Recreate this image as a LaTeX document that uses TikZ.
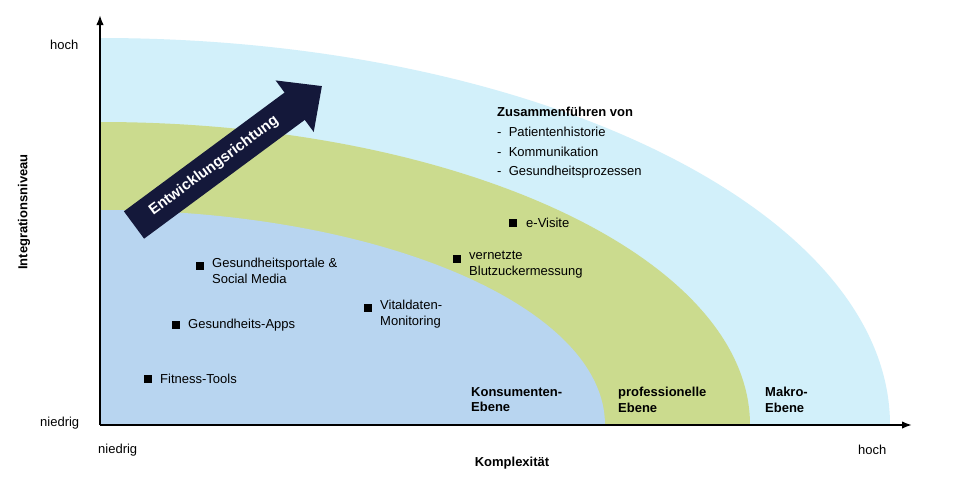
\documentclass[tikz,border=0pt]{standalone}
\usepackage{fontspec}
\setmainfont{Liberation Sans}
\usetikzlibrary{arrows.meta}
\definecolor{outerc}{HTML}{D2F0FA}
\definecolor{midc}{HTML}{CBDB8E}
\definecolor{innerc}{HTML}{B8D5F0}
\definecolor{navy}{HTML}{14183A}
\begin{document}
\begin{tikzpicture}[x=1pt,y=-1pt,
  lbl/.style={font=\fontsize{13}{15.5}\selectfont,align=left,anchor=west,inner sep=0pt},
  blbl/.style={lbl,font=\fontsize{13}{15.5}\selectfont\bfseries},
  mk/.style={fill=black,minimum size=8pt,inner sep=0pt}]
\useasboundingbox (0,0) rectangle (960,480);
\fill[white] (0,0) rectangle (960,480);
\fill[outerc] (100,425) -- (100,38) arc[start angle=90,end angle=0,x radius=790,y radius=-387] -- cycle;
\fill[midc] (100,425) -- (100,122) arc[start angle=90,end angle=0,x radius=650,y radius=-303] -- cycle;
\fill[innerc] (100,425) -- (100,210) arc[start angle=90,end angle=0,x radius=505,y radius=-215] -- cycle;
\coordinate (o) at (100,425);
\coordinate (yt) at (100,15);
\coordinate (xr) at (912,425);
\draw[line width=1.8pt,-{Latex[length=10pt]}] (o) -- (yt);
\draw[line width=1.8pt,-{Latex[length=10pt]}] (o) -- (xr);
\node[lbl] (yh) at (50,45) {hoch};
\node[lbl] (yn) at (40,423) {niedrig};
\node[blbl,anchor=center,rotate=90] (yl) at (24,212) {Integrationsniveau};
\node[lbl] (xn) at (98,450) {niedrig};
\node[lbl] (xh) at (858,450) {hoch};
\node[blbl,anchor=center] (xl) at (512,463) {Komplexität};
% arrow
\coordinate (as) at (134,225);
\coordinate (ae) at (322,86);
\draw[navy,line width=34pt,-{Triangle[length=34pt,width=62pt]}] (as) -- (ae);
\node[font=\fontsize{15}{17}\selectfont\bfseries,text=white,rotate=36.5] (arr) at (214,166) {Entwicklungsrichtung};
% items
\node[mk] (m1) at (148,379) {}; \node[lbl] (t1) at (160,379) {Fitness-Tools};
\node[mk] (m2) at (176,325) {}; \node[lbl] (t2) at (188,325) {Gesundheits-Apps};
\node[mk] (m3) at (200,266) {}; \node[lbl,anchor=north west] (t3) at (212,258) {Gesundheitsportale \&\\Social Media};
\node[mk] (m4) at (368,308) {}; \node[lbl,anchor=north west] (t4) at (380,300) {Vitaldaten-\\Monitoring};
\node[mk] (m5) at (457,259) {}; \node[lbl,anchor=north west] (t5) at (469,251) {vernetzte\\Blutzuckermessung};
\node[mk] (m6) at (513,223) {}; \node[lbl] (t6) at (526,223) {e-Visite};
\node[blbl] (z0) at (497,112) {Zusammenführen von};
\node[lbl] (z1) at (497,132) {-\ \ Patientenhistorie};
\node[lbl] (z2) at (497,152) {-\ \ Kommunikation};
\node[lbl] (z3) at (497,172) {-\ \ Gesundheitsprozessen};
\node[blbl,anchor=north west] (e1) at (471,387) {Konsumenten-\\Ebene};
\node[blbl,anchor=north west] (e2) at (618,387) {professionelle\\Ebene};
\node[blbl,anchor=north west] (e3) at (765,387) {Makro-\\Ebene};
\end{tikzpicture}
\end{document}
